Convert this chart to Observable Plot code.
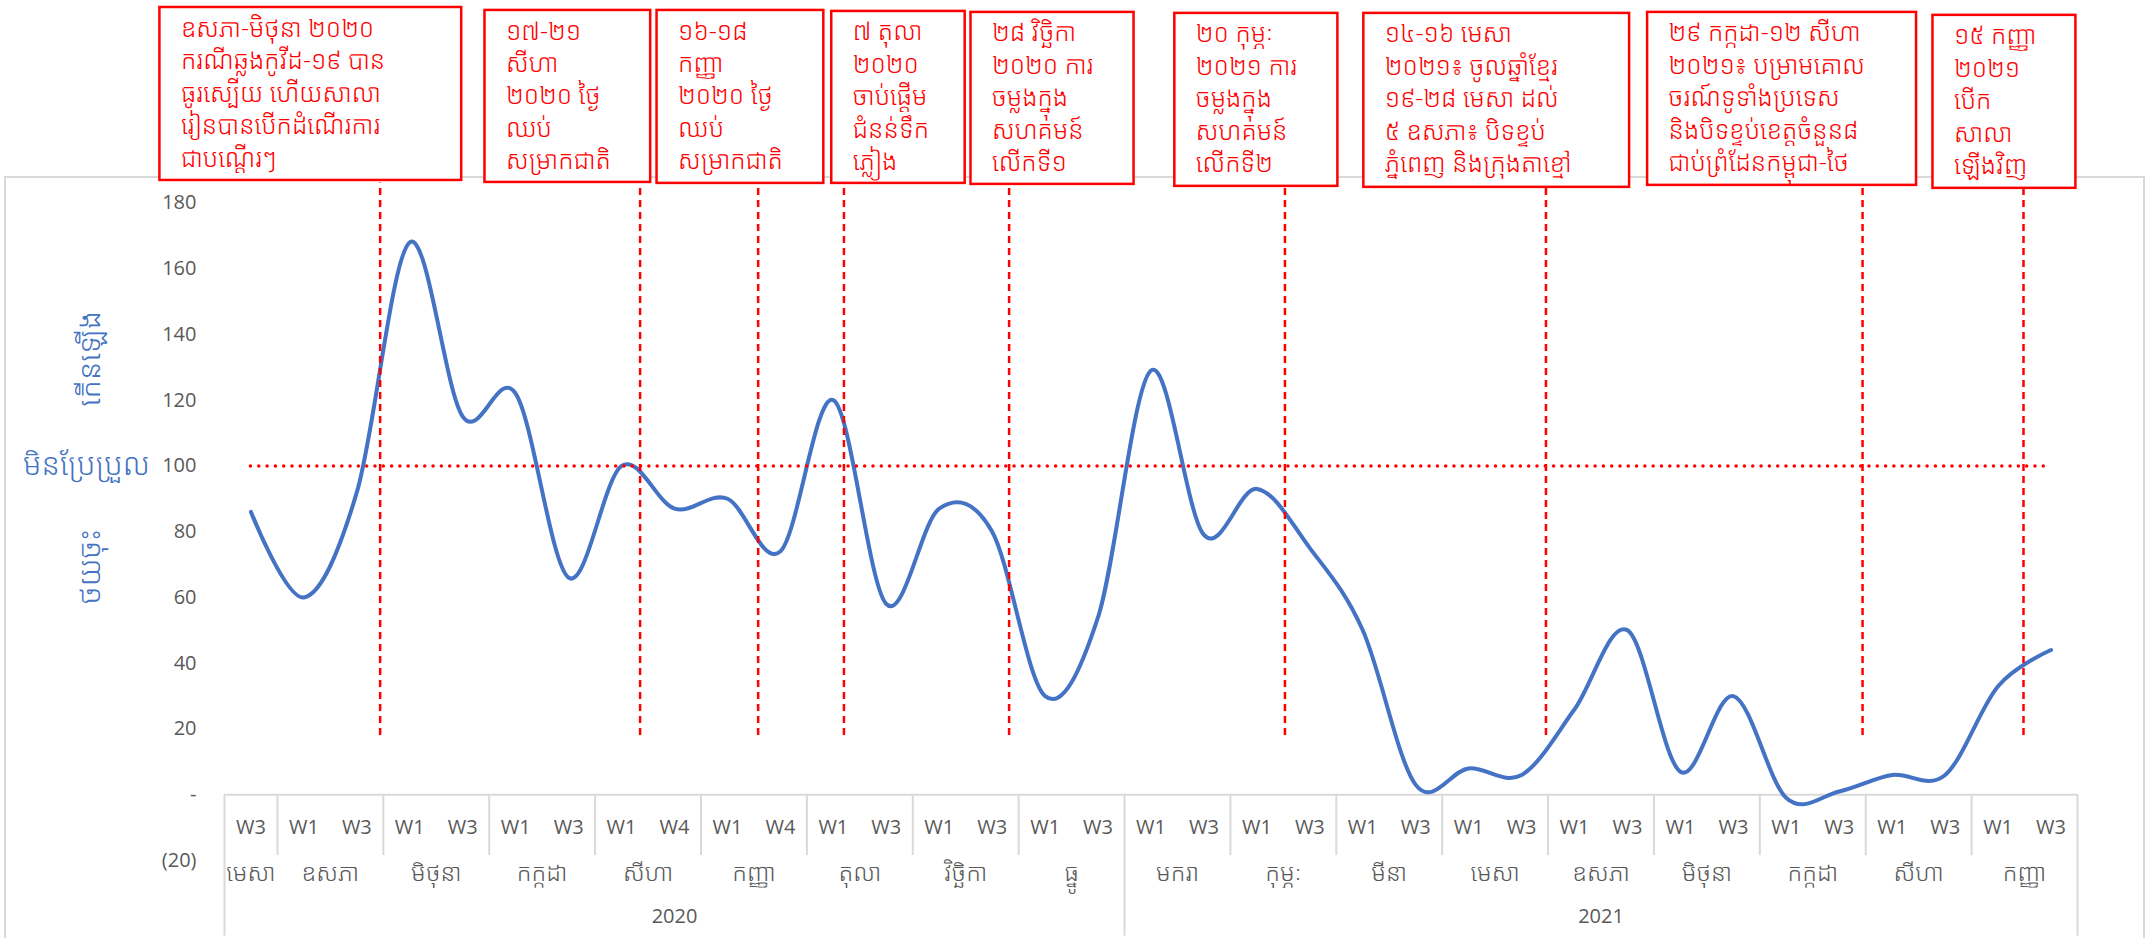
<!DOCTYPE html>
<html><head><meta charset="utf-8">
<script src="https://cdn.jsdelivr.net/npm/d3@7"></script>
<script src="https://cdn.jsdelivr.net/npm/@observablehq/plot@0.6"></script>
<style>
html,body{margin:0;padding:0;background:#fff;}
</style>
</head><body><div id="chart"></div>
<script>
// ---------- data ----------
const monthNames = ["មេសា","ឧសភា","មិថុនា","កក្កដា","សីហា","កញ្ញា","តុលា","វិច្ឆិកា","ធ្នូ",
                    "មករា","កុម្ភៈ","មីនា","មេសា","ឧសភា","មិថុនា","កក្កដា","សីហា","កញ្ញា"];
const monthYears = [2020,2020,2020,2020,2020,2020,2020,2020,2020,
                    2021,2021,2021,2021,2021,2021,2021,2021,2021];
const monthWeeks = [["W3"],["W1","W3"],["W1","W3"],["W1","W3"],["W1","W4"],["W1","W4"],["W1","W3"],["W1","W3"],["W1","W3"],
                    ["W1","W3"],["W1","W3"],["W1","W3"],["W1","W3"],["W1","W3"],["W1","W3"],["W1","W3"],["W1","W3"],["W1","W3"]];
const values = [86, 60, 92, 168, 115, 122, 66, 100, 87, 90, 74, 120, 58, 87, 80, 30, 54,
                129, 79, 93, 75, 50, 3, 8, 6, 26, 50, 7, 30, -1, 1, 6, 6, 33, 44];
const yTicks = [-20, 0, 20, 40, 60, 80, 100, 120, 140, 160, 180];
const baseline = 100;
const yTitleHigh = "កើនឡើង";
const yTitleMid = "មិនប្រែប្រួល";
const yTitleLow = "ថយចុះ";
// event positions, in week-category index units
const eventPos = [2.44, 7.35, 9.58, 11.2, 14.32, 19.53, 24.46, 30.44, 33.48];
const eventNotes = [
  ["ឧសភា-មិថុនា ២០២០","ករណីឆ្លងកូវីដ-១៩ បាន","ធូរស្បើយ ហើយសាលា","រៀនបានបើកដំណើរការ","ជាបណ្តើរៗ"],
  ["១៧-២១","សីហា","២០២០ ថ្ងៃ","ឈប់","សម្រាកជាតិ"],
  ["១៦-១៨","កញ្ញា","២០២០ ថ្ងៃ","ឈប់","សម្រាកជាតិ"],
  ["៧ តុលា","២០២០","ចាប់ផ្តើម","ជំនន់ទឹក","ភ្លៀង"],
  ["២៨ វិច្ឆិកា","២០២០ ការ","ចម្លងក្នុង","សហគមន៍","លើកទី១"],
  ["២០ កុម្ភៈ","២០២១ ការ","ចម្លងក្នុង","សហគមន៍","លើកទី២"],
  ["១៤-១៦ មេសា","២០២១៖ ចូលឆ្នាំខ្មែរ","១៩-២៨ មេសា ដល់","៥ ឧសភា៖ បិទខ្ទប់","ភ្នំពេញ និងក្រុងតាខ្មៅ"],
  ["២៩ កក្កដា-១២ សីហា","២០២១៖ បម្រាមគោល","ចរណ៍ទូទាំងប្រទេស","និងបិទខ្ទប់ខេត្តចំនួន៨","ជាប់ព្រំដែនកម្ពុជា-ថៃ"],
  ["១៥ កញ្ញា","២០២១","បើក","សាលា","ឡើងវិញ"]
];

// ---------- layout (annotation boxes: x1, x2 in category units; top, bottom in y units) ----------
const noteBoxes = [
  [-1.72, 3.98, 239.4, 186.8],
  [4.42, 7.55, 238.5, 186.2],
  [7.67, 10.82, 238.5, 185.9],
  [10.97, 13.49, 238.2, 185.9],
  [13.6, 16.68, 237.9, 185.6],
  [17.45, 20.53, 237.6, 185.0],
  [21.02, 26.04, 237.6, 184.7],
  [26.38, 31.46, 237.9, 185.3],
  [31.77, 34.47, 237.0, 184.4]
];

// ---------- derived tables ----------
const rows = [];
monthWeeks.forEach((ws, m) => ws.forEach(w => rows.push({i: rows.length, week: w, month: m, value: values[rows.length]})));
const n = rows.length;
const monthGroups = [];
{ let s = 0; monthWeeks.forEach((ws, m) => { monthGroups.push({name: monthNames[m], year: monthYears[m], start: s, end: s + ws.length - 1, center: s + (ws.length - 1) / 2}); s += ws.length; }); }
const yearGroups = Array.from(d3.group(monthGroups, d => d.year), ([year, g]) => ({year, center: (g[0].start + g[g.length - 1].end) / 2}));
const seps = monthGroups.map((g, k) => ({x: g.start - 0.5, full: k === 0 || monthYears[k] !== monthYears[k - 1]}));
seps.push({x: n - 0.5, full: true});
const notes = eventNotes.map((lines, k) => ({text: lines.join("\n"), x: noteBoxes[k][0], y: noteBoxes[k][2]}));

const GRAY = "#595959", BLUE = "#4472C4", RED = "#FF0000", LINE = "#d9d9d9";
const FONT = "'Open Sans', 'Noto Sans Khmer', 'Khmer OS System', 'Khmer OS', sans-serif";

const chart = Plot.plot({
  width: 2150, height: 938,
  marginLeft: 224, marginRight: 73, marginTop: 5, marginBottom: 78,
  x: {type: "linear", domain: [-0.5, n - 0.5], axis: null},
  y: {domain: [-20, 240], axis: null},
  style: {fontFamily: FONT, background: "white", overflow: "visible"},
  marks: [
    Plot.ruleY([0], {x1: -0.5, x2: n - 0.5, stroke: LINE, strokeWidth: 2}),
    Plot.ruleX(seps, {x: "x", y1: 0, y2: d => d.full ? -43 : -18.5, stroke: LINE, strokeWidth: 2}),
    Plot.text(rows, {x: "i", y: () => 0, text: "week", dy: 33, fontSize: 20, fill: GRAY}),
    Plot.text(monthGroups, {x: "center", y: () => 0, text: "name", dy: 79, fontSize: 24, fill: GRAY, fontWeight: 300}),
    Plot.text(yearGroups, {x: "center", y: () => 0, text: d => String(d.year), dy: 122, fontSize: 20, fill: GRAY}),
    Plot.axisY({ticks: yTicks, tickSize: 0, tickPadding: 28, fontSize: 20, color: GRAY, label: null,
      tickFormat: d => d === 0 ? "-" : d < 0 ? `(${-d})` : String(d)}),
    Plot.line(rows, {x: "i", y: "value", curve: "cardinal", stroke: BLUE, strokeWidth: 4}),
    Plot.ruleY([baseline], {x1: 0, x2: n - 1, stroke: RED, strokeWidth: 3.5, strokeDasharray: "0,8.3", strokeLinecap: "round"}),
    Plot.ruleX(eventPos, {x: d => d, y1: 18, y2: 186, stroke: RED, strokeWidth: 2.5, strokeDasharray: "7,5"}),
    Plot.rect(noteBoxes, {x1: d => d[0], x2: d => d[1], y1: d => d[3], y2: d => d[2], fill: "white", stroke: RED, strokeWidth: 2.5}),
    Plot.text(notes, {x: "x", y: "y", text: "text", textAnchor: "start", lineAnchor: "top", dx: 21, dy: 6, fill: RED, fontSize: 25, fontWeight: 300, lineHeight: 1.3}),
    Plot.text([yTitleMid], {frameAnchor: "left", y: () => baseline, text: d => d, dx: -138, textAnchor: "middle", fontSize: 30, fill: BLUE, fontWeight: 300}),
    Plot.text([yTitleHigh], {frameAnchor: "left", y: () => 132.6, text: d => d, dx: -134, textAnchor: "middle", fontSize: 30, fill: BLUE, fontWeight: 300, rotate: -90}),
    Plot.text([yTitleLow], {frameAnchor: "left", y: () => 69.3, text: d => d, dx: -134, textAnchor: "middle", fontSize: 30, fill: BLUE, fontWeight: 300, rotate: -90})
  ]
});
// outer chart border (chrome)
d3.select(chart).insert("rect", ":first-child")
  .attr("x", 5).attr("y", 177).attr("width", 2139).attr("height", 800)
  .attr("fill", "none").attr("stroke", LINE).attr("stroke-width", 2);
document.getElementById("chart").appendChild(chart);
</script>
</body></html>
